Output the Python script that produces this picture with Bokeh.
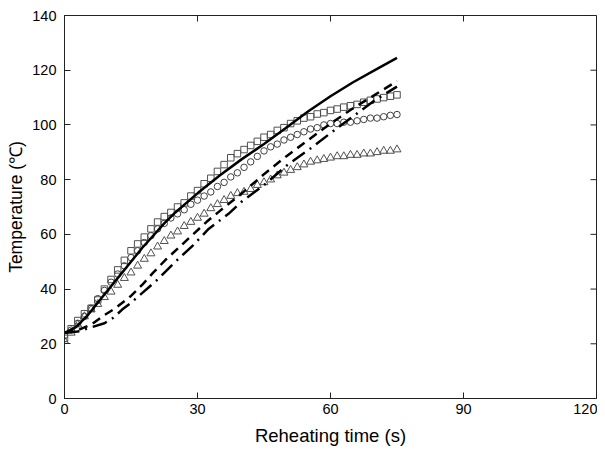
import math
from bokeh.plotting import figure
from bokeh.models import Range1d, FixedTicker
from bokeh.embed import file_html
from bokeh.resources import INLINE

# Marker series (time in s, temperature in C)
t_marks = [0, 1.5, 3, 4.5, 6, 7.5, 9, 10.5, 12, 13.5, 15, 16.5, 18, 19.5, 21, 22.5, 24, 25.5,
           27, 28.5, 30, 31.5, 33, 34.5, 36, 37.5, 39, 40.5, 42, 43.5, 45, 46.5, 48, 49.5,
           51, 52.5, 54, 55.5, 57, 58.5, 60, 61.5, 63, 64.5, 66, 67.5, 69, 70.5, 72, 73.5, 75]
squares = [22, 25.5, 28.5, 31, 33, 36, 40, 43.5, 47, 50.5, 54, 56.5, 59, 62, 64.5, 66.5, 68, 70,
           71.5, 74, 76, 78.5, 80.5, 83, 85.5, 88, 89.5, 91, 92.5, 94, 95.5, 96.5, 98, 99,
           100.5, 101.5, 102.5, 103, 104, 104.5, 105.3, 105.8, 106.5, 107, 107.5, 108.3, 109,
           109.5, 110, 110.5, 111]
circles = [23, 25, 27.5, 30, 33, 36.5, 39.5, 42.5, 45.5, 48.5, 51.5, 54, 57, 59.5, 62, 64, 66,
           67.5, 69, 71, 72.5, 74, 75.5, 77.5, 79, 81, 82.5, 84.5, 86.5, 88.5, 90.5, 92, 93,
           94.5, 95.5, 96.5, 97.5, 98.5, 99, 100, 100.5, 100.5, 101, 101, 101.5, 102, 102.5,
           102.5, 103, 103.5, 103.8]
triangles = [21, 24, 27, 30, 32.5, 34.5, 37, 39, 41.5, 44, 46, 48.5, 51, 53, 55.5, 57.5, 59.5,
             61, 63, 64.5, 66, 67.5, 69.5, 71, 72.5, 74, 75, 75.5, 76.5, 78, 79, 80, 81.5,
             82.5, 83.5, 84.5, 85.5, 86.5, 87, 87.5, 88, 88.5, 88.5, 89, 89, 89.5, 89.5, 90,
             90.5, 90.5, 91]

# Line series
solid_t = [0, 2.5, 5, 7.5, 10, 12.5, 15, 17.5, 20, 22.5, 25, 27.5, 30, 35, 40, 45, 50, 55, 60, 65, 70, 75]
solid_y = [24, 26, 30, 35, 40, 45, 50, 55, 59.5, 64, 68, 71.5, 75, 81.5, 87.5, 93, 99, 105, 110.5, 115.5, 120, 124.5]

dash_t = [0, 3, 6, 9, 11.5, 15, 17.5, 20, 23, 26, 29, 32, 35, 40, 45, 50, 55, 60, 65, 70, 75]
dash_y = [24, 25, 27, 30.5, 33, 37.5, 41.5, 46, 51, 55.5, 60, 64.5, 68.5, 75, 82, 88.5, 94.5, 100.5, 106, 111, 116]

dashdot_t = [0, 3, 6, 9, 11, 13, 15, 17.5, 21, 25, 29, 32.5, 37, 40, 45, 50, 56, 60, 65, 70, 75]
dashdot_y = [24, 24.5, 26, 27.5, 29.5, 32.5, 35, 38.5, 43.5, 50, 56, 62, 67.5, 72, 78, 85, 92, 97, 103, 109, 114]

x_ticks = [0, 30, 60, 90, 120]
y_ticks = [0, 20, 40, 60, 80, 100, 120, 140]
x_max = 120
y_max = 140

FONT = "Liberation Sans"
AXC = "#222222"

p = figure(frame_width=532, frame_height=383, output_backend="svg", toolbar_location=None,
           x_range=Range1d(0, x_max), y_range=Range1d(0, y_max),
           min_border_left=64, min_border_right=1, min_border_top=15, min_border_bottom=52)
p.xgrid.visible = False
p.ygrid.visible = False
p.outline_line_color = AXC
p.outline_line_width = 1
p.background_fill_color = "white"
p.border_fill_color = "white"

# markers
p.scatter(t_marks, triangles, marker="triangle", size=8, fill_color=None,
          line_color="#505050", line_width=1)
p.scatter(t_marks, circles, marker="circle", size=6.5, fill_color=None,
          line_color="#404040", line_width=1)
p.scatter(t_marks, squares, marker="square", size=6.5, fill_color=None,
          line_color="#505050", line_width=1)

# lines
p.line(solid_t, solid_y, line_color="black", line_width=2.5)
p.line(dash_t, dash_y, line_color="black", line_width=2.5, line_dash="9 6")
p.line(dashdot_t, dashdot_y, line_color="black", line_width=2.5, line_dash="15 6 2 6")

# inward ticks on right and top edges
p.ray(x=[x_max] * len(y_ticks), y=y_ticks, length=6, length_units="screen",
      angle=math.pi, line_color=AXC, line_width=1)
p.ray(x=x_ticks, y=[y_max] * len(x_ticks), length=6, length_units="screen",
      angle=-math.pi / 2, line_color=AXC, line_width=1)

for ax in (p.xaxis[0], p.yaxis[0]):
    ax.major_tick_in = 6
    ax.major_tick_out = 0
    ax.minor_tick_in = 0
    ax.minor_tick_out = 0
    ax.axis_line_color = AXC
    ax.major_tick_line_color = AXC
    ax.major_label_text_font = FONT
    ax.major_label_text_font_size = "14.5px"
    ax.major_label_text_color = "black"
    ax.axis_label_text_font = FONT
    ax.axis_label_text_font_style = "normal"
    ax.axis_label_text_color = "black"

p.xaxis[0].axis_label_text_font_size = "18.5px"
p.yaxis[0].axis_label_text_font_size = "17.5px"
p.xaxis[0].ticker = FixedTicker(ticks=x_ticks)
p.yaxis[0].ticker = FixedTicker(ticks=y_ticks)
p.xaxis[0].axis_label = "Reheating time (s)"
p.yaxis[0].axis_label = "Temperature (\u2103)"
p.xaxis[0].major_label_standoff = 5
p.yaxis[0].major_label_standoff = 8
p.xaxis[0].axis_label_standoff = 8
p.yaxis[0].axis_label_standoff = 3

open("out.html", "w").write(file_html(p, INLINE))
